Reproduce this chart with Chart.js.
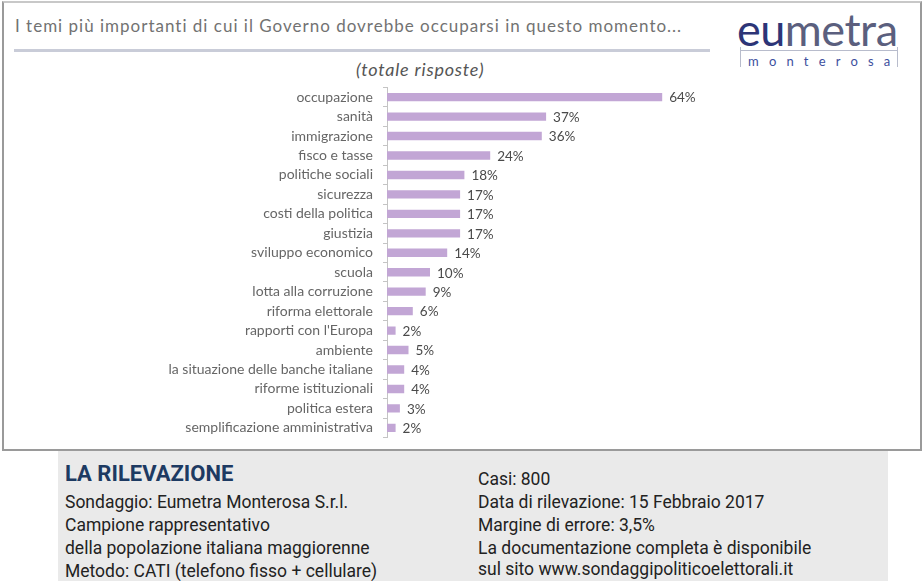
<!DOCTYPE html>
<html>
<head>
<meta charset="utf-8">
<script src="https://cdn.jsdelivr.net/npm/chart.js@4/dist/chart.umd.min.js"></script>
<style>
  body { margin: 0; width: 924px; height: 581px; background: #fff; position: relative; overflow: hidden; font-family: Lato, sans-serif; }
  .frame { position: absolute; left: 2px; top: 1px; width: 916px; height: 446px; border: 2px solid #9a9a9a; border-top-color: #c8c8c8; }
  .title { position: absolute; left: 15px; top: 15px; font-size: 17px; color: #727272; letter-spacing: 1px; white-space: nowrap; }
  .rule { position: absolute; left: 14px; top: 49px; width: 696px; height: 3px; background: #c9ccd8; }
  .logo { position: absolute; left: 737px; top: 2px; font-size: 45px; letter-spacing: -0.5px; color: #5b5f7e; }
  .logo b { font-weight: 400; color: #2d3577; }
  .mline { position: absolute; left: 740px; top: 50px; width: 158px; height: 1px; background: #b8bccc; }
  .mtick1 { position: absolute; left: 740px; top: 47px; width: 1px; height: 20px; background: #b8bccc; }
  .mtick2 { position: absolute; left: 897px; top: 47px; width: 1px; height: 20px; background: #b8bccc; }
  .monte { position: absolute; left: 748px; top: 53px; font-size: 13px; letter-spacing: 10.2px; color: #3d4f9e; }
  .sub { position: absolute; left: 356px; top: 58px; font-size: 18px; font-style: italic; color: #555; letter-spacing: 0.8px; }
  #chart { position: absolute; left: 0; top: 69px; }
  .box { position: absolute; left: 58px; top: 451px; width: 830px; height: 130px; background: #eaeaea; }
  .box div { position: absolute; font-family: "Roboto", sans-serif; font-size: 17.5px; color: #222; white-space: nowrap; }
  .box .h { font-weight: bold; font-size: 22px; color: #1d3a62; left: 7px; top: 10px; }
</style>
</head>
<body>
<div class="frame"></div>
<div class="title">I temi più importanti di cui il Governo dovrebbe occuparsi in questo momento...</div>
<div class="rule"></div>
<div class="logo"><b>eu</b>metra</div>
<div class="mline"></div><div class="mtick1"></div><div class="mtick2"></div>
<div class="monte">monterosa</div>
<div class="sub">(totale risposte)</div>
<canvas id="chart" width="924" height="387"></canvas>
<div class="box">
  <div class="h">LA RILEVAZIONE</div>
  <div style="left:7px;top:41px">Sondaggio: Eumetra Monterosa S.r.l.</div>
  <div style="left:7px;top:64px">Campione rappresentativo</div>
  <div style="left:7px;top:87px">della popolazione italiana maggiorenne</div>
  <div style="left:7px;top:110px">Metodo: CATI (telefono fisso + cellulare)</div>
  <div style="left:420px;top:18px">Casi: 800</div>
  <div style="left:420px;top:41px">Data di rilevazione: 15 Febbraio 2017</div>
  <div style="left:420px;top:64px">Margine di errore: 3,5%</div>
  <div style="left:420px;top:87px">La documentazione completa è disponibile</div>
  <div style="left:420px;top:108px">sul sito www.sondaggipoliticoelettorali.it</div>
</div>
<script>
const temi = [
  "occupazione", "sanità", "immigrazione", "fisco e tasse", "politiche sociali",
  "sicurezza", "costi della politica", "giustizia", "sviluppo economico", "scuola",
  "lotta alla corruzione", "riforma elettorale", "rapporti con l'Europa", "ambiente",
  "la situazione delle banche italiane", "riforme istituzionali", "politica estera",
  "semplificazione amministrativa"
];
const percentuali = [64, 37, 36, 24, 18, 17, 17, 17, 14, 10, 9, 6, 2, 5, 4, 4, 3, 2];

const valueLabels = {
  id: "valueLabels",
  afterDatasetsDraw(chart) {
    const ctx = chart.ctx;
    const meta = chart.getDatasetMeta(0);
    ctx.save();
    ctx.font = "13.5px Lato, sans-serif";
    ctx.fillStyle = "#4a4a4a";
    ctx.textBaseline = "middle";
    meta.data.forEach((bar, i) => {
      ctx.fillText(percentuali[i] + "%", bar.x + 7, bar.y + 1);
    });
    ctx.restore();
  },
};

new Chart(document.getElementById("chart"), {
  type: "bar",
  data: {
    labels: temi,
    datasets: [{
      data: percentuali,
      backgroundColor: "#c2a6d5",
      barPercentage: 0.43,
      categoryPercentage: 1,
    }],
  },
  options: {
    indexAxis: "y",
    responsive: false,
    animation: false,
    layout: { padding: { top: 6, bottom: 7, left: 0, right: 107 } },
    plugins: { legend: { display: false }, tooltip: { enabled: false } },
    scales: {
      x: { display: false, min: 0, max: 100 },
      y: {
        afterFit(scale) { scale.width = 387; },
        border: { display: true, color: "#c4c4c4", width: 1 },
        grid: { drawOnChartArea: false, tickLength: 4, color: "#c4c4c4", offset: true },
        ticks: { color: "#666", padding: 10, font: { size: 14, family: "Lato" } },
      },
    },
  },
  plugins: [valueLabels],
});
</script>
</body>
</html>
